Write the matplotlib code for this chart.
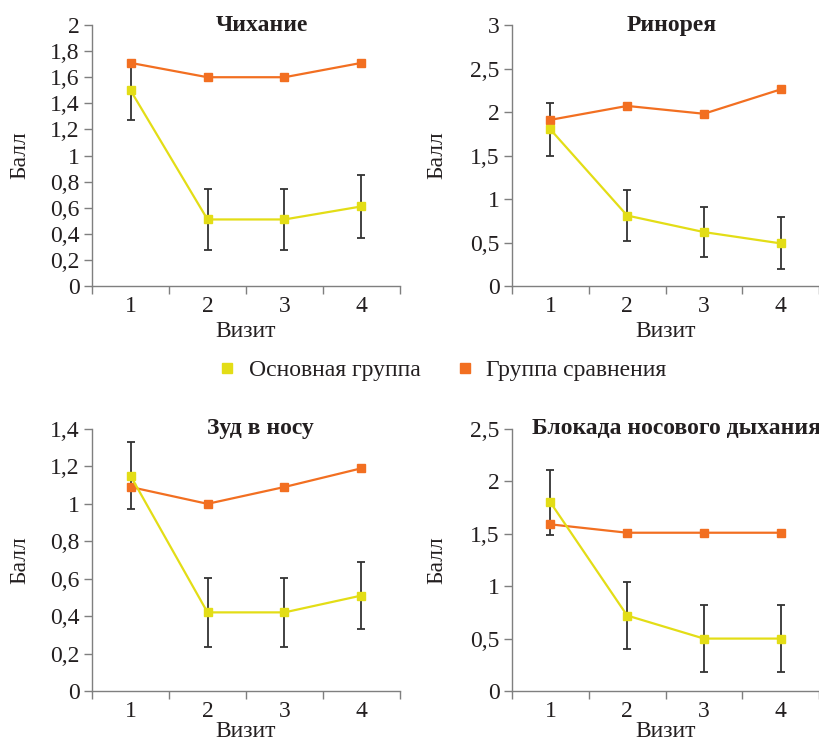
import matplotlib
matplotlib.use('Agg')
import matplotlib.pyplot as plt
from matplotlib.lines import Line2D
from matplotlib.ticker import FuncFormatter, FixedLocator

plt.rcParams['font.family'] = ['Liberation Serif', 'DejaVu Serif']
plt.rcParams['font.size'] = 17

visits = [1, 2, 3, 4]
series_names = ['Основная группа', 'Группа сравнения']
yellow = '#e3dd16'
orange = '#f26f21'

# Чихание
sneeze_main = [1.50, 0.51, 0.51, 0.61]
sneeze_main_err = [0.225, 0.235, 0.235, 0.24]
sneeze_ctrl = [1.71, 1.60, 1.60, 1.71]

# Ринорея
rhino_main = [1.80, 0.81, 0.62, 0.49]
rhino_main_err = [0.30, 0.29, 0.29, 0.30]
rhino_ctrl = [1.91, 2.07, 1.98, 2.26]

# Зуд в носу
itch_main = [1.15, 0.42, 0.42, 0.51]
itch_main_err = [0.18, 0.185, 0.185, 0.18]
itch_ctrl = [1.09, 1.00, 1.09, 1.19]

# Блокада носового дыхания
block_main = [1.80, 0.72, 0.50, 0.50]
block_main_err = [0.31, 0.32, 0.32, 0.32]
block_ctrl = [1.59, 1.51, 1.51, 1.51]

titles = ['Чихание', 'Ринорея', 'Зуд в носу', 'Блокада носового дыхания']
y_max = [2, 3, 1.4, 2.5]
y_step = [0.2, 0.5, 0.2, 0.5]


def comma_fmt(v, pos):
    return f'{round(v, 2):g}'.replace('.', ',')


def draw_panel(ax, title, main, main_err, ctrl, ymax, ystep, title_x, ylabel_x, xlabel_y):
    ax.errorbar(visits, main, yerr=main_err, fmt='none', ecolor='#333333',
                elinewidth=1.3, capsize=3, capthick=1.3, zorder=1)
    ax.plot(visits, ctrl, color=orange, lw=1.6, marker='s', ms=6, zorder=3)
    ax.plot(visits, main, color=yellow, lw=1.6, marker='s', ms=6, zorder=4)

    ax.set_xlim(0.5, 4.5)
    ax.set_ylim(0, ymax)
    n = int(round(ymax / ystep))
    ax.yaxis.set_major_locator(FixedLocator([i * ystep for i in range(n + 1)]))
    ax.yaxis.set_major_formatter(FuncFormatter(comma_fmt))
    ax.set_xticks(visits)
    ax.set_xticks([0.5, 1.5, 2.5, 3.5, 4.5], minor=True)
    ax.tick_params(axis='x', which='major', length=0, pad=7, colors='#231f20')
    ax.tick_params(axis='x', which='minor', length=6, width=1, color='#7f7f7f', direction='out')
    ax.tick_params(axis='y', length=6, width=1, direction='out', colors='#231f20', pad=3)
    ax.tick_params(axis='y', color='#7f7f7f')

    for side in ['top', 'right']:
        ax.spines[side].set_visible(False)
    for side in ['left', 'bottom']:
        ax.spines[side].set_color('#7f7f7f')
        ax.spines[side].set_linewidth(1)

    ax.text(title_x, 1.0, title, transform=ax.transAxes, ha='center', va='center',
            fontweight='bold', fontsize=17, color='#231f20')
    ax.set_ylabel('Балл', color='#231f20')
    ax.yaxis.set_label_coords(ylabel_x, 0.5)
    ax.set_xlabel('Визит', color='#231f20')
    ax.xaxis.set_label_coords(0.5, xlabel_y)
    ax.set_facecolor('none')


fig = plt.figure(figsize=(8.2, 7.45), dpi=100)
ax1 = fig.add_axes([0.1122, 0.6161, 0.3756, 0.3503])
ax2 = fig.add_axes([0.6244, 0.6161, 0.3744, 0.3503])
ax3 = fig.add_axes([0.1122, 0.0725, 0.3756, 0.3517])
ax4 = fig.add_axes([0.6244, 0.0725, 0.3744, 0.3517])

draw_panel(ax1, titles[0], sneeze_main, sneeze_main_err, sneeze_ctrl, y_max[0], y_step[0], 0.552, -0.20, -0.135)
draw_panel(ax2, titles[1], rhino_main, rhino_main_err, rhino_ctrl, y_max[1], y_step[1], 0.521, -0.21, -0.135)
draw_panel(ax3, titles[2], itch_main, itch_main_err, itch_ctrl, y_max[2], y_step[2], 0.548, -0.20, -0.115)
draw_panel(ax4, titles[3], block_main, block_main_err, block_ctrl, y_max[3], y_step[3], 0.537, -0.21, -0.115)

handles = [Line2D([], [], color=c, marker='s', ms=7.5, linestyle='none') for c in [yellow, orange]]
fig.legend(handles, series_names, loc='center', bbox_to_anchor=(0.535, 0.503), ncol=2,
           frameon=False, handletextpad=0.2, columnspacing=1.2, handlelength=1.4,
           fontsize=17, labelcolor='#231f20')

fig.savefig('out.png', dpi=100)
